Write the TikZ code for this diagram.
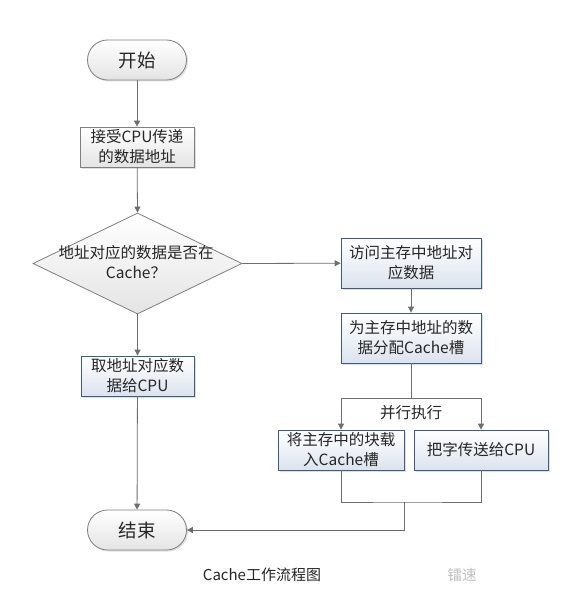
\documentclass[tikz,border=0pt]{standalone}
\usepackage{fontspec}
\setmainfont{Noto Sans CJK SC}
\usetikzlibrary{arrows.meta,shapes.geometric,shadows}
\definecolor{lineg}{HTML}{6E6E6E}
\definecolor{grayb}{HTML}{7F7F7F}
\definecolor{blueb}{HTML}{3B5B8C}
\definecolor{bluefill}{HTML}{DCE3EE}
\definecolor{grayfill}{HTML}{E4E4E4}
\tikzset{
  txt/.style={font=\fontsize{15.5pt}{20pt}\selectfont, text=black!85, align=center},
  term/.style={draw=grayb, line width=0.8pt, rounded corners=20pt, minimum width=99pt, minimum height=40pt,
     top color=white, bottom color=grayfill, font=\fontsize{18.5pt}{22pt}\selectfont, text=black!85,
     drop shadow={shadow xshift=1.5pt, shadow yshift=-1.5pt, opacity=0.25}},
  graybox/.style={txt, draw=grayb, line width=0.8pt, minimum width=114pt, minimum height=40pt, inner sep=1pt,
     top color=white, bottom color=grayfill,
     drop shadow={shadow xshift=1.5pt, shadow yshift=-1.5pt, opacity=0.25}},
  bluebox/.style={txt, draw=blueb, line width=0.8pt, minimum height=50pt, inner sep=1pt,
     top color=white, bottom color=bluefill,
     drop shadow={shadow xshift=1.5pt, shadow yshift=-1.5pt, opacity=0.25}},
  decide/.style={txt, diamond, draw=grayb, line width=0.8pt, minimum width=209pt, minimum height=101pt, aspect=2.07, inner sep=0pt,
     top color=white, bottom color=grayfill},
  conn/.style={draw=lineg, line width=0.8pt},
  arr/.style={conn, -{Triangle[width=6pt,length=6pt]}},
}
\begin{document}
\begin{tikzpicture}[x=1pt,y=-1pt]
\useasboundingbox[fill=white] (0,0) rectangle (564,604);
\node[term] (start) at (137,60) {开始};
\node[graybox] (recv) at (137,147) {接受CPU传递\\的数据地址};
\node[decide] (dec) at (137.5,263.5) {};
\node[txt] (dect) at (136,262) {地址对应的数据是否在\\Cache？};
\node[bluebox, minimum width=140pt] (visit) at (411,263) {访问主存中地址对\\应数据};
\node[bluebox, minimum width=140pt] (alloc) at (411,338) {为主存中地址的数\\据分配Cache槽};
\node[bluebox, minimum width=113pt, minimum height=40pt] (fetch) at (137.5,376) {取地址对应数\\据给CPU};
\node[bluebox, minimum width=126pt, minimum height=40pt] (load) at (341,450) {将主存中的块载\\入Cache槽};
\node[bluebox, minimum width=134pt, minimum height=40pt] (send) at (481,450) {把字传送给CPU};
\node[term] (end) at (137,530) {结束};
\node[txt] (par) at (411,413) {并行执行};
\node[font=\fontsize{15pt}{18pt}\selectfont, text=black!85] (cap) at (262,575) {Cache工作流程图};
\node[font=\fontsize{14.5pt}{18pt}\selectfont, text=black!25] (wm) at (462,575) {镭速};
\coordinate (split) at (411,398);
\coordinate (join) at (404,502);

\draw[arr] (start) -- (recv);
\draw[arr] (recv) -- (dec.north);
\draw[arr] (dec.east) -- (visit);
\draw[arr] (visit) -- (alloc);
\draw[arr] (dec.south) -- (fetch);
\draw[arr] (fetch) -- (end);
\draw[conn] (alloc.south) -- (split);
\draw[arr] (split) -| (load.north);
\draw[arr] (split) -| (send.north);
\draw[conn] (load.south) |- (join) -| (send.south);
\draw[arr] (join) |- (end.east);
\end{tikzpicture}
\end{document}
